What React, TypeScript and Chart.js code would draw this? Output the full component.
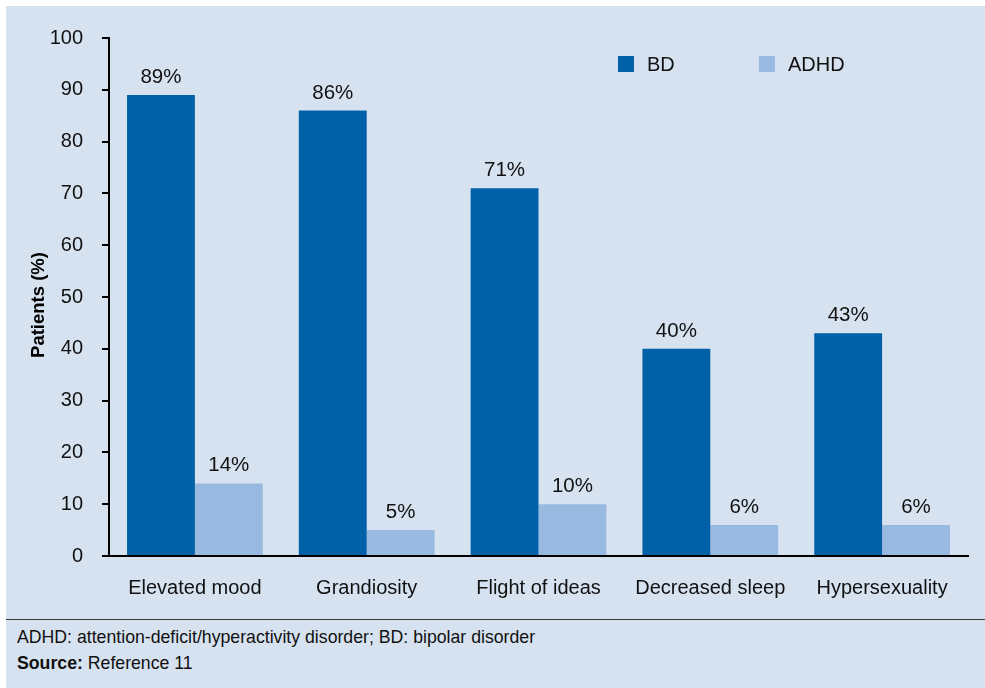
import React, { useEffect, useRef } from "react";
import { Chart, registerables } from "chart.js";

Chart.register(...registerables);

const categories = ["Elevated mood", "Grandiosity", "Flight of ideas", "Decreased sleep", "Hypersexuality"];
const seriesNames = ["BD", "ADHD"];
const bdValues = [89, 86, 71, 40, 43];
const adhdValues = [14, 5, 10, 6, 6];
const yMin = 0;
const yMax = 100;
const yStep = 10;
const yTitle = "Patients (%)";
const footnote = "ADHD: attention-deficit/hyperactivity disorder; BD: bipolar disorder";
const sourceLabel = "Source:";
const sourceText = " Reference 11";

const BG = "#d6e2f0";
const BD_COLOR = "#0061a8";
const ADHD_COLOR = "#98b9e0";
const FONT = "'Liberation Sans', Arial, Helvetica, sans-serif";

const valueLabels = {
  id: "valueLabels",
  afterDatasetsDraw(chart: any) {
    const ctx = chart.ctx;
    ctx.save();
    ctx.font = `20.5px ${FONT}`;
    ctx.fillStyle = "#111";
    ctx.textAlign = "center";
    ctx.textBaseline = "alphabetic";
    chart.data.datasets.forEach((ds: any, i: number) => {
      const meta = chart.getDatasetMeta(i);
      meta.data.forEach((bar: any, j: number) => {
        ctx.fillText(`${ds.data[j]}%`, bar.x, bar.y - 12);
      });
    });
    ctx.restore();
  },
};

const customLegend = {
  id: "customLegend",
  afterDraw(chart: any) {
    const ctx = chart.ctx;
    const items = [
      { x: 612, color: BD_COLOR, text: seriesNames[0] },
      { x: 753, color: ADHD_COLOR, text: seriesNames[1] },
    ];
    ctx.save();
    ctx.font = `20px ${FONT}`;
    ctx.textAlign = "left";
    ctx.textBaseline = "middle";
    items.forEach((it) => {
      ctx.fillStyle = it.color;
      ctx.fillRect(it.x, 50, 16, 16);
      ctx.fillStyle = "#111";
      ctx.fillText(it.text, it.x + 29, 59);
    });
    ctx.restore();
  },
};

const axisTitle = {
  id: "axisTitle",
  afterDraw(chart: any) {
    const ctx = chart.ctx;
    const area = chart.chartArea;
    ctx.save();
    ctx.translate(33, (area.top + area.bottom) / 2 + 8);
    ctx.rotate(-Math.PI / 2);
    ctx.font = `bold 18.5px ${FONT}`;
    ctx.fillStyle = "#000";
    ctx.textAlign = "center";
    ctx.textBaseline = "middle";
    ctx.fillText(yTitle, 0, 0);
    ctx.restore();
  },
};

export default function App() {
  const canvasRef = useRef<HTMLCanvasElement | null>(null);

  useEffect(() => {
    if (!canvasRef.current) return;
    const chart = new Chart(canvasRef.current, {
      type: "bar",
      data: {
        labels: categories,
        datasets: [
          { label: seriesNames[0], data: bdValues, backgroundColor: BD_COLOR, borderWidth: 0 },
          { label: seriesNames[1], data: adhdValues, backgroundColor: ADHD_COLOR, borderWidth: 0 },
        ],
      },
      options: {
        animation: false,
        responsive: true,
        maintainAspectRatio: false,
        datasets: { bar: { categoryPercentage: 0.79, barPercentage: 1.0 } },
        layout: { padding: { top: 32, right: 17, left: 0, bottom: 0 } },
        plugins: {
          legend: { display: false },
          tooltip: { enabled: false },
        },
        scales: {
          x: {
            grid: { display: false, drawTicks: false },
            border: { display: true, color: "#000", width: 2 },
            ticks: { color: "#111", font: { family: FONT, size: 20 }, padding: 20, maxRotation: 0 },
            afterFit(scale: any) {
              scale.height = 63;
            },
          },
          y: {
            min: yMin,
            max: yMax,
            ticks: { stepSize: yStep, color: "#111", font: { family: FONT, size: 20 }, padding: 19 },
            grid: { display: true, drawOnChartArea: false, drawTicks: true, tickLength: 7, color: "#000", lineWidth: 2 },
            border: { display: true, color: "#000", width: 2 },
            title: { display: false },
            afterFit(scale: any) {
              scale.width = 103;
            },
          },
        },
      },
      plugins: [valueLabels, customLegend, axisTitle],
    });
    return () => chart.destroy();
  }, []);

  return (
    <div
      style={{
        position: "absolute",
        left: 6,
        top: 6,
        width: 979,
        height: 682,
        background: BG,
        fontFamily: FONT,
      }}
    >
      <div style={{ position: "relative", width: 979, height: 613 }}>
        <canvas ref={canvasRef} />
      </div>
      <div style={{ height: 0, borderTop: "1.5px solid #3a3a3a" }} />
      <div style={{ paddingLeft: 11, paddingTop: 4, fontSize: 17.7, color: "#111", lineHeight: "26px" }}>
        <div>{footnote}</div>
        <div>
          <b>{sourceLabel}</b>
          {sourceText}
        </div>
      </div>
    </div>
  );
}
